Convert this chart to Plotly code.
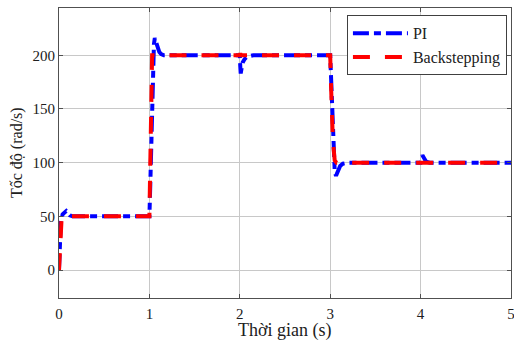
import plotly.graph_objects as go

# PI response
pi_t = [0, 0.01, 0.02, 0.04, 0.06, 0.08, 0.10, 0.12, 0.15, 0.2,
        1.0, 1.01, 1.02, 1.03, 1.04, 1.05, 1.06, 1.07, 1.09, 1.11, 1.13, 1.16, 1.2,
        2.0, 2.005, 2.01, 2.02, 2.03, 2.05, 2.07, 2.1, 2.15,
        3.0, 3.01, 3.02, 3.03, 3.04, 3.05, 3.06, 3.07, 3.09, 3.11, 3.14, 3.2,
        4.0, 4.01, 4.02, 4.04, 4.06, 4.1, 5.0]
pi_v = [0, 25, 45, 52, 54, 55, 53, 51, 50, 50,
        50, 80, 120, 160, 195, 210, 216, 214, 208, 203, 201, 200, 200,
        200, 190, 183, 188, 193, 196, 198, 199, 200,
        200, 180, 150, 120, 100, 92, 89, 89, 93, 97, 99, 100,
        100, 104, 107, 104, 101, 100, 100]

# Backstepping response
bs_t = [0, 0.01, 0.02, 0.03, 1.0, 1.01, 1.02, 1.03, 2.0, 2.005, 2.01, 2.02,
        3.0, 3.01, 3.03, 3.05, 3.07, 5.0]
bs_v = [0, 20, 40, 50, 50, 100, 160, 200, 200, 202, 200, 200,
        200, 170, 120, 102, 100, 100]

x_ticks = [0, 1, 2, 3, 4, 5]
y_ticks = [0, 50, 100, 150, 200]

serif = "Liberation Serif, Times New Roman, serif"

fig = go.Figure()
fig.add_trace(go.Scatter(x=pi_t, y=pi_v, mode="lines", name="PI",
                         line=dict(color="#0000ff", width=4, dash="16px,5px,7px,5px")))
fig.add_trace(go.Scatter(x=bs_t, y=bs_v, mode="lines", name="Backstepping",
                         line=dict(color="#ff0000", width=4, dash="17px,15px")))

axis_common = dict(showgrid=True, gridcolor="#c8c8c8", gridwidth=1,
                   showline=True, linecolor="#505050", linewidth=1, mirror="ticks",
                   ticks="inside", ticklen=4, tickcolor="#505050", automargin=False,
                   zeroline=False, ticklabeloverflow="allow",
                   tickfont=dict(family=serif, size=15, color="#202020"))

fig.update_xaxes(range=[0, 5], tickvals=x_ticks, ticklabelstandoff=2, **axis_common)
fig.update_yaxes(range=[-26, 244], tickvals=y_ticks, **axis_common)

fig.add_annotation(text="Thời gian (s)", xref="paper", yref="paper", x=0.5, y=0,
                   xanchor="center", yanchor="middle", yshift=-32, showarrow=False,
                   font=dict(family=serif, size=18, color="#202020"))
fig.add_annotation(text="Tốc độ (rad/s)", xref="paper", yref="paper", x=0, y=0.5,
                   xanchor="center", yanchor="middle", xshift=-42, textangle=-90, showarrow=False,
                   font=dict(family=serif, size=16, color="#202020"))

fig.update_layout(
    width=514, height=341,
    margin=dict(l=59, r=3, t=8, b=43, autoexpand=False),
    plot_bgcolor="white", paper_bgcolor="white",
    legend=dict(x=0.991, y=0.975, xanchor="right", yanchor="top",
                bgcolor="white", bordercolor="#404040", borderwidth=1,
                font=dict(family=serif, size=16, color="#202020"),
                itemwidth=55, tracegroupgap=0),
)

fig.write_html("out.html", config={"displayModeBar": False},
               post_script="document.body.style.margin='0';document.body.style.overflow='hidden';")
